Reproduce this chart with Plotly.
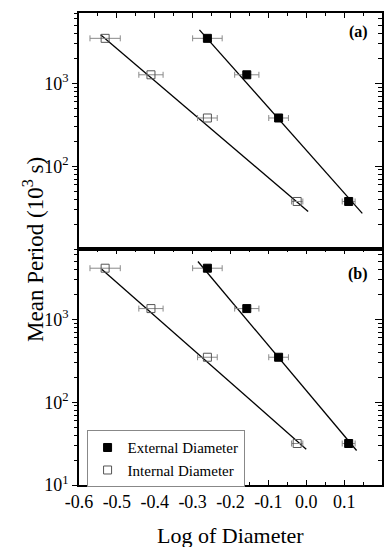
import plotly.graph_objects as go

# ---- data ----
ext_x = [-0.261, -0.157, -0.073, 0.112]
int_x = [-0.531, -0.410, -0.261, -0.024]
ext_xerr = [0.039, 0.032, 0.026, 0.017]
int_xerr = [0.040, 0.032, 0.026, 0.015]
period_a = [3500, 1270, 382, 37.5]
period_b = [4150, 1350, 349, 31.7]

fit_a_ext_x = [-0.282, 0.148]
fit_a_ext_y = [4436, 26.9]
fit_a_int_x = [-0.543, 0.005]
fit_a_int_y = [3864, 28.4]
fit_b_ext_x = [-0.286, 0.133]
fit_b_ext_y = [5000, 26.1]
fit_b_int_x = [-0.540, 0.000]
fit_b_int_y = [4036, 27.1]

x_ticks = [-0.6, -0.5, -0.4, -0.3, -0.2, -0.1, 0.0, 0.1, 0.2]
x_ticktext = ["-0.6", "-0.5", "-0.4", "-0.3", "-0.2", "-0.1", "0.0", "0.1", "0.2"]
x_minor = [-0.55, -0.45, -0.35, -0.25, -0.15, -0.05, 0.05, 0.15]
y_ticks = [10, 100, 1000]
y_ticktext = ["10<sup>1</sup>", "10<sup>2</sup>", "10<sup>3</sup>"]
y_minor = [m * d for d in (10, 100, 1000) for m in range(2, 10)]

FONT = "Liberation Serif, Times New Roman, serif"
ERR_COLOR = "#8a8a8a"

fig = go.Figure()

def add_panel(yref, periods, fits, show_legend):
    (fex, fey), (fix, fiy) = fits
    xref = "x" if yref == "y" else "x2"
    fig.add_trace(go.Scatter(x=fex, y=fey, mode="lines", line=dict(color="black", width=1.3),
                             showlegend=False, hoverinfo="skip", xaxis=xref, yaxis=yref))
    fig.add_trace(go.Scatter(x=fix, y=fiy, mode="lines", line=dict(color="black", width=1.3),
                             showlegend=False, hoverinfo="skip", xaxis=xref, yaxis=yref))
    fig.add_trace(go.Scatter(
        x=ext_x, y=periods, mode="markers", name="External Diameter",
        marker=dict(symbol="square", size=8, color="black", line=dict(color="black", width=1)),
        error_x=dict(type="data", array=ext_xerr, color=ERR_COLOR, thickness=1, width=3),
        showlegend=show_legend, xaxis=xref, yaxis=yref))
    fig.add_trace(go.Scatter(
        x=int_x, y=periods, mode="markers", name="Internal Diameter",
        marker=dict(symbol="square-open", size=8, color="#555555", line=dict(color="#555555", width=1)),
        error_x=dict(type="data", array=int_xerr, color=ERR_COLOR, thickness=1, width=3),
        showlegend=show_legend, xaxis=xref, yaxis=yref))

add_panel("y", period_a, ((fit_a_ext_x, fit_a_ext_y), (fit_a_int_x, fit_a_int_y)), False)
add_panel("y2", period_b, ((fit_b_ext_x, fit_b_ext_y), (fit_b_int_x, fit_b_int_y)), True)

# dummy traces to realise right-side overlay axes
fig.add_trace(go.Scatter(x=[None], y=[None], xaxis="x", yaxis="y3", showlegend=False, hoverinfo="skip"))
fig.add_trace(go.Scatter(x=[None], y=[None], xaxis="x2", yaxis="y4", showlegend=False, hoverinfo="skip"))

YR = [1, 3.85]
xcommon = dict(range=[-0.6, 0.2], tickmode="array", tickvals=x_ticks, ticks="inside", ticklen=5,
               tickwidth=1.2, tickcolor="black", showline=True, linecolor="black", linewidth=1.5,
               showgrid=False, zeroline=False, automargin=False,
               minor=dict(tickmode="array", tickvals=x_minor, ticks="inside", ticklen=3, tickcolor="black", tickwidth=1),
               tickfont=dict(family=FONT, size=18, color="black"))
ycommon = dict(type="log", range=YR, tickmode="array", ticks="outside", ticklen=5, tickwidth=1.2,
               tickcolor="black", showline=True, linecolor="black", linewidth=1.5, showgrid=False,
               zeroline=False, automargin=False,
               minor=dict(tickmode="array", tickvals=y_minor, ticks="outside", ticklen=3, tickcolor="black", tickwidth=1),
               tickfont=dict(family=FONT, size=18, color="black"))
yright = dict(type="log", range=YR, tickmode="array", tickvals=y_ticks, ticks="inside", ticklen=7,
              tickwidth=1.2, tickcolor="black", showline=True, linecolor="black", linewidth=1.5,
              showgrid=False, zeroline=False, showticklabels=False, side="right", automargin=False,
              minor=dict(tickmode="array", tickvals=y_minor, ticks="inside", ticklen=4, tickcolor="black", tickwidth=1))

# page body has an 8px default margin, so the figure is sized to fill the rest of the window
fig.update_layout(
    width=384, height=539,
    margin=dict(l=71, r=10, t=5, b=62, autoexpand=False),
    plot_bgcolor="white", paper_bgcolor="white",
    font=dict(family=FONT, color="black"),
    xaxis=dict(**xcommon, anchor="y", side="top", showticklabels=False, mirror=True),
    xaxis2=dict(**xcommon, anchor="y2", side="bottom", mirror="ticks", showticklabels=True,
                ticktext=x_ticktext),
    yaxis=dict(**ycommon, domain=[0.5, 1.0], anchor="x", tickvals=[100, 1000], ticktext=y_ticktext[1:]),
    yaxis2=dict(**ycommon, domain=[0.0, 0.5], anchor="x2", tickvals=y_ticks, ticktext=y_ticktext),
    yaxis3=dict(**yright, overlaying="y", anchor="x"),
    yaxis4=dict(**yright, overlaying="y2", anchor="x2"),
    legend=dict(x=0.025, y=0.116, xanchor="left", yanchor="top", bgcolor="white",
                bordercolor="#888888", borderwidth=1, font=dict(family=FONT, size=15, color="black"),
                tracegroupgap=0, itemwidth=30),
    annotations=[
        dict(text="<b>(a)</b>", xref="paper", yref="paper", x=0.96, y=0.96, xanchor="right", yanchor="middle",
             showarrow=False, font=dict(family=FONT, size=16, color="black")),
        dict(text="<b>(b)</b>", xref="paper", yref="paper", x=0.96, y=0.447, xanchor="right", yanchor="middle",
             showarrow=False, font=dict(family=FONT, size=16, color="black")),
        dict(text="Mean Period (10<sup>3</sup> s)", xref="paper", yref="paper", x=-0.152, y=0.5,
             xanchor="center", yanchor="middle", textangle=-90, showarrow=False,
             font=dict(family=FONT, size=23, color="black")),
        dict(text="Log of Diameter", xref="paper", yref="paper", x=0.5, y=-0.108,
             xanchor="center", yanchor="middle", showarrow=False,
             font=dict(family=FONT, size=22, color="black")),
    ],
)

fig.write_html("out.html")
